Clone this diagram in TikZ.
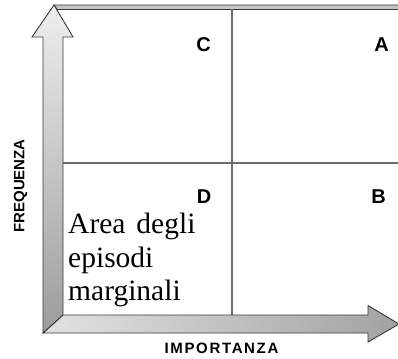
\documentclass[tikz,border=0pt]{standalone}
\usepackage{fontspec}
\setmainfont{Liberation Serif}
\newfontfamily\lsans{Liberation Sans}
\newfontfamily\lsansls[LetterSpace=11]{Liberation Sans}
\definecolor{edgec}{HTML}{3A3A3A}
\definecolor{gridc}{HTML}{6E6E6E}
\definecolor{barc}{HTML}{C4C4C4}
\definecolor{lightc}{HTML}{EEEEEE}
\definecolor{darkc}{HTML}{9C9C9C}
\definecolor{hlightc}{HTML}{E2E2E2}
\definecolor{hdarkc}{HTML}{A2A2A2}
\tikzset{
  arrowbody/.style={draw=edgec, line width=0.9pt, line join=miter},
  gridline/.style={draw=gridc, line width=1.3pt},
  quadlabel/.style={font=\lsans\bfseries\fontsize{20}{22}\selectfont, inner sep=0pt},
  axislabel/.style={font=\lsans\bfseries\fontsize{15}{17}\selectfont, inner sep=0pt},
  areatext/.style={font=\fontsize{29.5}{33}\selectfont, inner sep=0pt, anchor=base west}
}
\begin{document}
\begin{tikzpicture}[x=1pt, y=-1pt]
\useasboundingbox (0,0) rectangle (398,358);
% top bar
\draw[draw=edgec, fill=barc, line width=0.8pt] (54,5) -- (402,5) -- (402,9.5) -- (57,9.5) -- cycle;
% grid lines
\draw[gridline] (63,163) -- (402,163);
\draw[gridline] (232,9.5) -- (232,315);
% horizontal arrow
\shade[left color=hlightc, right color=hdarkc] (43,333) -- (63,315) -- (368,315) -- (368,305.5) -- (399,324) -- (368,342) -- (368,333) -- cycle;
\draw[arrowbody] (43,333) -- (63,315) -- (368,315) -- (368,305.5) -- (399,324) -- (368,342) -- (368,333) -- cycle;
% vertical arrow
\shade[top color=lightc, bottom color=darkc] (43,333) -- (43,37) -- (32,37) -- (54,5) -- (73,37) -- (63,37) -- (63,315) -- cycle;
\draw[arrowbody] (43,333) -- (43,37) -- (32,37) -- (54,5) -- (73,37) -- (63,37) -- (63,315) -- cycle;
% quadrant labels
\node[quadlabel] (qc) at (203.5,44.5) {C};
\node[quadlabel] (qa) at (381.5,44.5) {A};
\node[quadlabel] (qd) at (204,197) {D};
\node[quadlabel] (qb) at (378.5,197) {B};
% axis labels
\node[axislabel, rotate=90] (freq) at (20.5,186) {FREQUENZA};
\node[axislabel, font=\lsansls\bfseries\fontsize{15}{17}\selectfont] (imp) at (221.5,348) {IMPORTANZA};
% area text
\node[areatext] (area1) at (68,233) {Area\hspace{11pt}degli};
\node[areatext] (area2) at (68,267) {episodi};
\node[areatext] (area3) at (68,300) {marginali};
\end{tikzpicture}
\end{document}
